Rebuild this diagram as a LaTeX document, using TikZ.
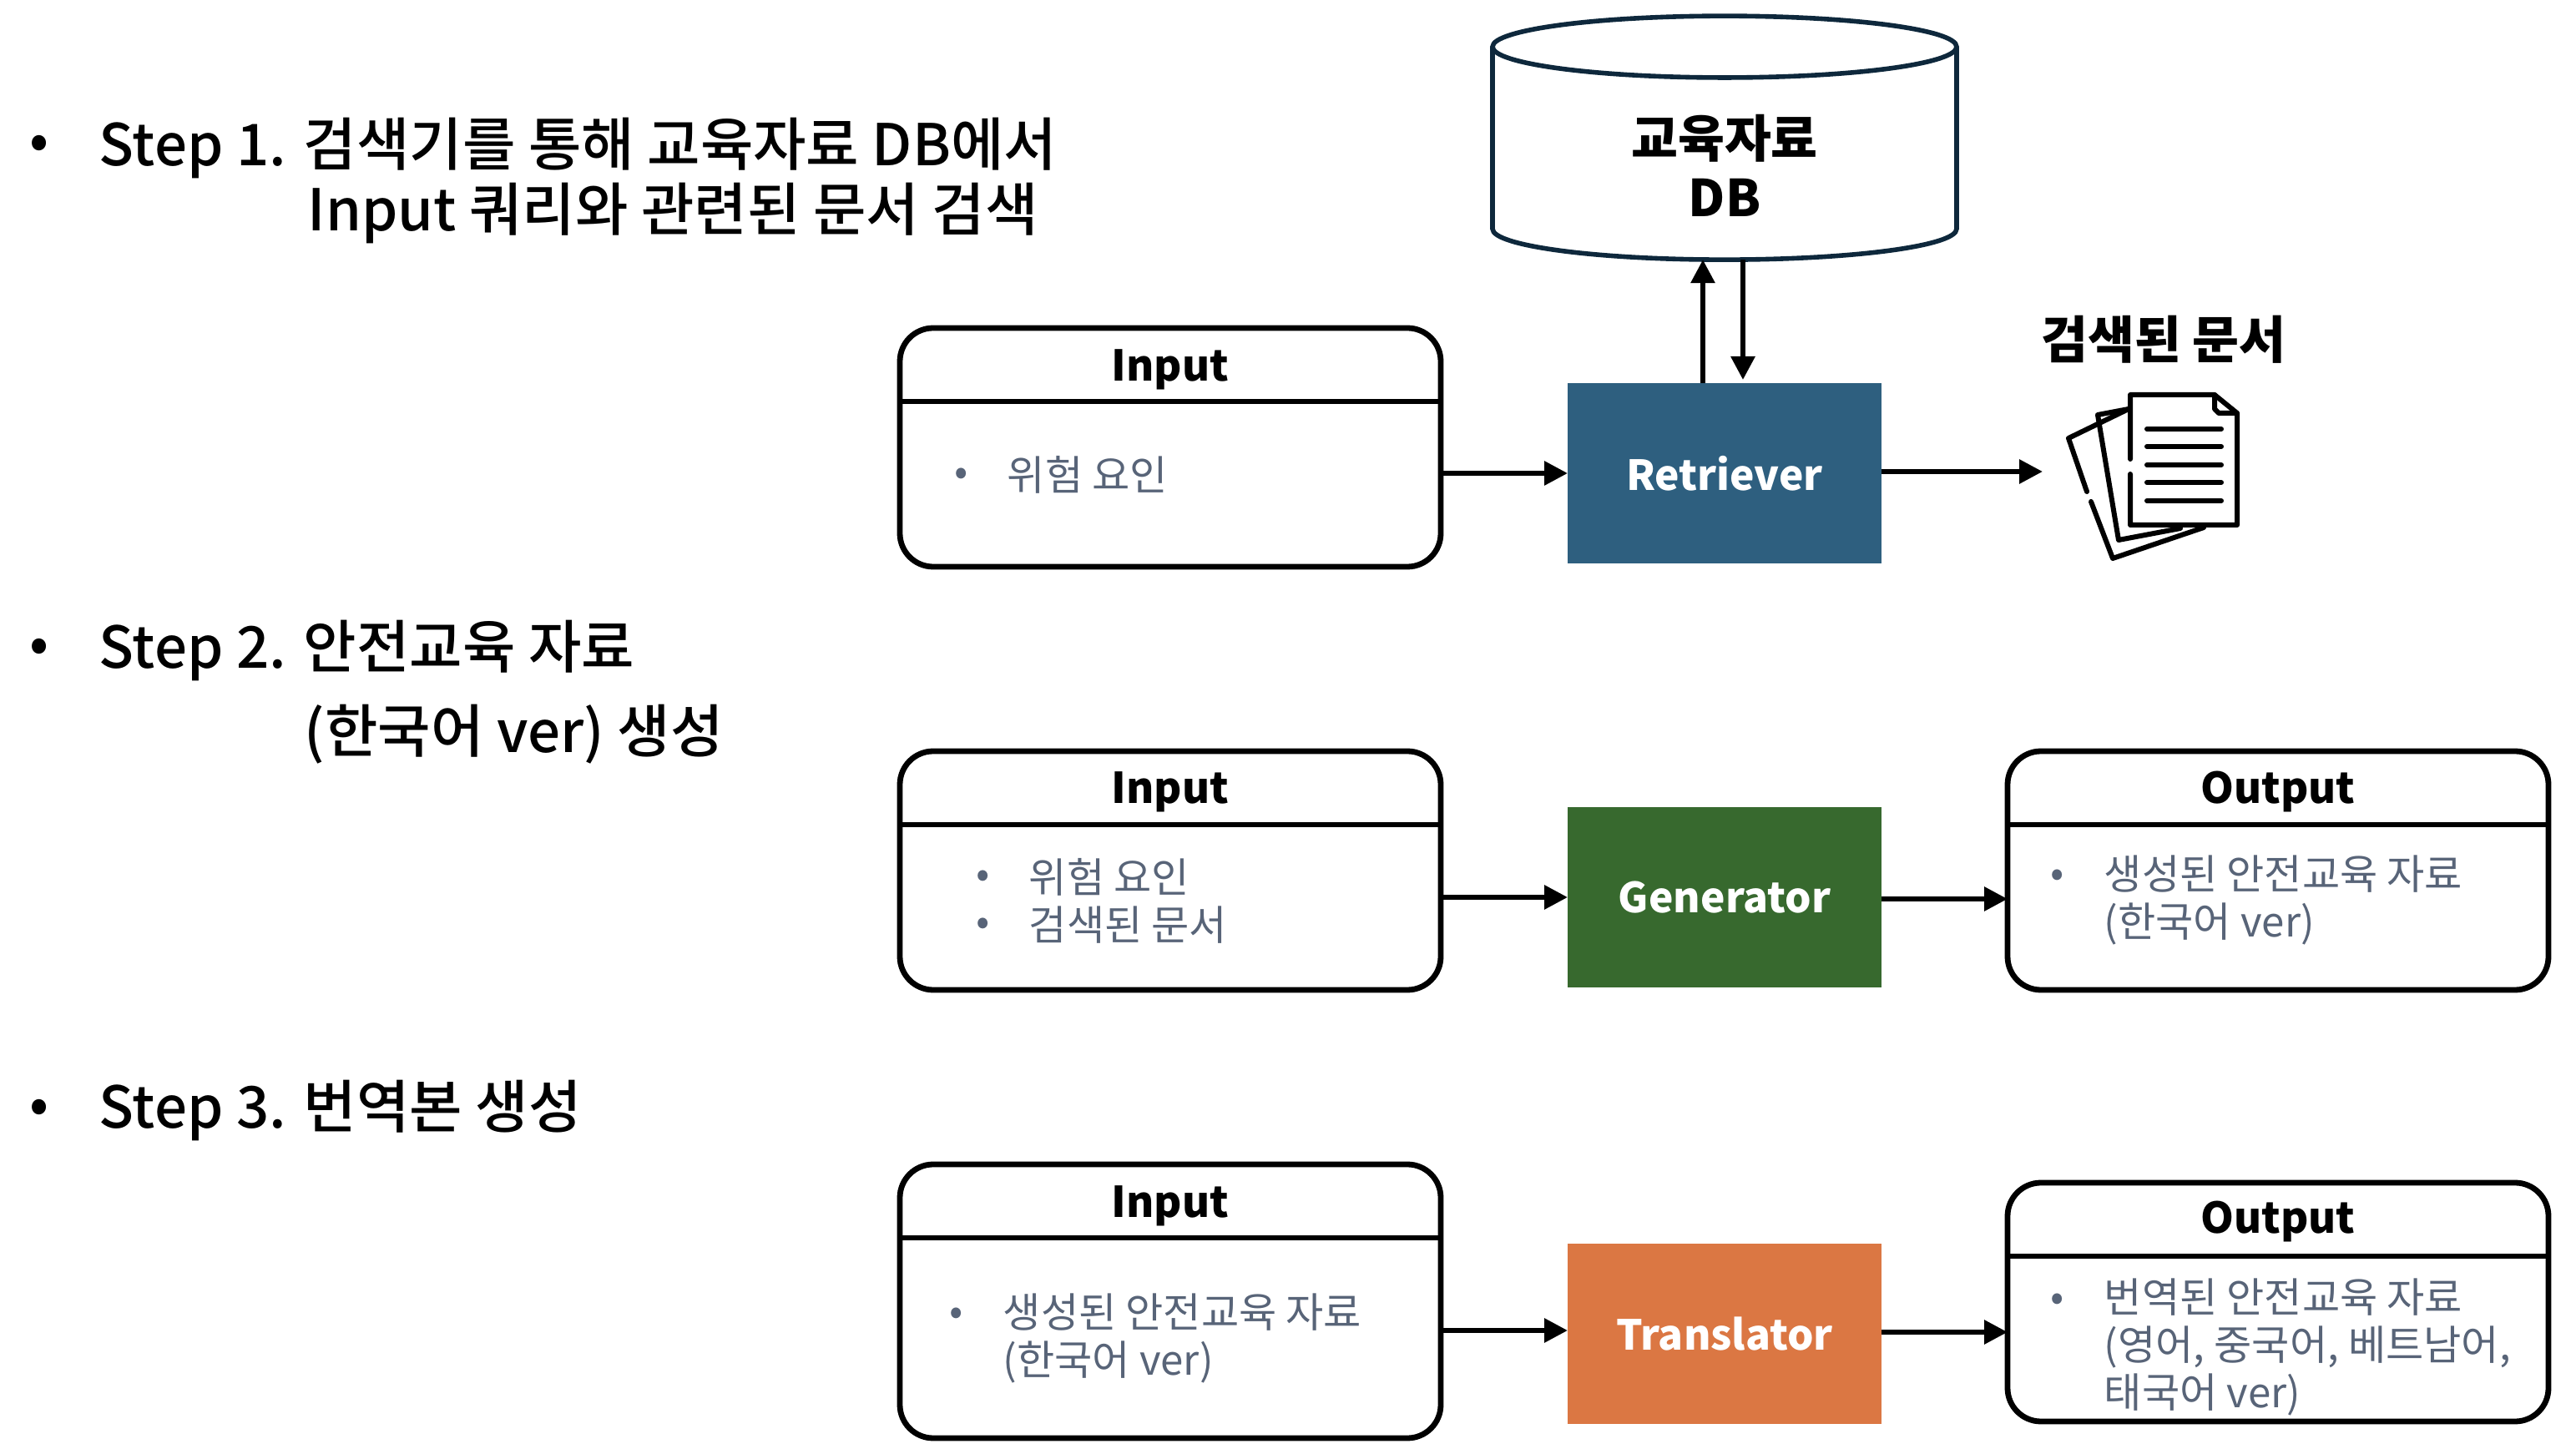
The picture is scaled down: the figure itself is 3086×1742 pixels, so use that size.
\documentclass[tikz,border=0pt]{standalone}
\usepackage{fontspec}
\setmainfont{Noto Sans CJK KR}
\newfontfamily\stepfont{Noto Sans CJK KR Medium}
\definecolor{bodygray}{RGB}{88, 100, 120}
\definecolor{dbnavy}{RGB}{14, 40, 60}
\definecolor{retrieverblue}{RGB}{46, 95, 127}
\definecolor{generatorgreen}{RGB}{55, 105, 46}
\definecolor{translatororange}{RGB}{219, 119, 67}
\usetikzlibrary{shapes.geometric, arrows.meta, positioning, calc}
\tikzset{
  stepline/.style={anchor=west, inner sep=0pt, font=\stepfont\fontsize{17.25}{19}\selectfont},
  stepdot/.style={inner sep=0pt, font=\fontsize{17}{19}\selectfont},
  iobox/.style={draw=black, fill=white, line width=1.7pt, rounded corners=10pt, minimum width=162pt, outer sep=0pt},
  iotitle/.style={inner sep=0pt, font=\bfseries\fontsize{12.7}{15}\selectfont},
  iotext/.style={anchor=west, inner sep=0pt, align=left, text=bodygray, font=\fontsize{12.3}{14.25}\selectfont},
  iodot/.style={inner sep=0pt, text=bodygray, font=\fontsize{12}{14.25}\selectfont},
  modelbox/.style={minimum width=94pt, minimum height=54pt, inner sep=0pt, outer sep=0pt, text=white, font=\bfseries\fontsize{12.4}{15}\selectfont},
  flow/.style={line width=1.5pt, -{Triangle[length=7pt, width=7pt]}},
  page/.style={line width=1.5pt, line cap=round, line join=round},
}

\begin{document}
\begin{tikzpicture}[x=0.25pt, y=-0.25pt]
  \useasboundingbox (0,0) rectangle (3086,1742);

  % steps on the left
  \node[stepdot] (dotA) at (47,177) {•};
  \node[stepline] (stepA) at (118,178) {Step 1. 검색기를 통해 교육자료 DB에서};
  \node[stepline] (stepAb) at (368,255) {Input 쿼리와 관련된 문서 검색};
  \node[stepdot] (dotB) at (47,780) {•};
  \node[stepline] (stepB) at (118,779) {Step 2. 안전교육 자료};
  \node[stepline] (stepBb) at (364,880) {(한국어 ver) 생성};
  \node[stepdot] (dotC) at (47,1332) {•};
  \node[stepline] (stepC) at (118,1331) {Step 3. 번역본 생성};

  % models
  \node[modelbox, fill=retrieverblue] (retriever) at (2066,567) {Retriever};
  \node[modelbox, fill=generatorgreen] (generator) at (2066,1075) {Generator};
  \node[modelbox, fill=translatororange] (translator) at (2066,1598) {Translator};

  % db
  \node[cylinder, shape border rotate=90, shape aspect=0.33, draw=dbnavy, fill=white, line width=1.4pt,
    minimum width=139pt, minimum height=73pt, outer sep=0pt, inner sep=0pt, align=center,
    font=\bfseries\fontsize{15.2}{17.75}\selectfont] (db) at (2066,185) {\phantom{교육자료}\\\phantom{DB}};
  \node[inner sep=0pt, align=center, font=\bfseries\fontsize{15.2}{17.75}\selectfont] (dblabel) at (2066,198) {교육자료\\DB};

  % input and output boxes
  \node[iobox, minimum height=71.5pt] (inputA) at (1402,536) {};
  \node[iobox, minimum height=71.5pt] (inputB) at (1402,1043) {};
  \node[iobox, minimum height=82pt] (inputC) at (1402,1559) {};
  \node[iobox, minimum height=71.5pt] (outputB) at (2729,1043) {};
  \node[iobox, minimum height=71.5pt] (outputC) at (2729,1560) {};
  \foreach \boxname in {inputA, inputB, inputC, outputB, outputC}
    \draw[line width=1.7pt] ([yshift=-22pt]\boxname.north west) -- ([yshift=-22pt]\boxname.north east);

  \node[iotitle] (inputAtitle) at ([yshift=-12.4pt]inputA.north) {Input};
  \node[iotitle] (inputBtitle) at ([yshift=-12.2pt]inputB.north) {Input};
  \node[iotitle] (inputCtitle) at ([yshift=-12.4pt]inputC.north) {Input};
  \node[iotitle] (outputBtitle) at ([yshift=-12.2pt]outputB.north) {Output};
  \node[iotitle] (outputCtitle) at ([yshift=-11.7pt]outputC.north) {Output};

  \node[iodot] (inputAdot) at (1152,571) {•};
  \node[iotext] (inputAtext) at (1206,569) {위험 요인};
  \node[iodot] (inputBdot) at (1178,1053) {•};
  \node[iodot] (inputBdotb) at (1178,1110) {•};
  \node[iotext] (inputBtext) at (1232,1079) {위험 요인\\검색된 문서};
  \node[iodot] (outputBdot) at (2465,1052) {•};
  \node[iotext] (outputBtext) at (2520,1078) {생성된 안전교육 자료\\(한국어 ver)};
  \node[iodot] (inputCdot) at (1146,1577) {•};
  \node[iotext] (inputCtext) at (1201,1603) {생성된 안전교육 자료\\(한국어 ver)};
  \node[iodot] (outputCdot) at (2465,1560) {•};
  \node[iotext] (outputCtext) at (2520,1614) {번역된 안전교육 자료\\(영어, 중국어, 베트남어,\\태국어 ver)};

  % retrieved documents
  \node[inner sep=0pt, font=\bfseries\fontsize{15.2}{17}\selectfont] (docslabel) at (2592,407) {검색된 문서};
  \coordinate (docs) at (2447,565);
  \draw[page] (2550,490) -- (2478,525) -- (2500,589);
  \draw[page] (2505,601) -- (2531,669) -- (2640,632);
  \draw[page] (2550,490) -- (2513,497) -- (2538,647) -- (2612,633);
  \draw[page] (2552,550) -- (2552,473) -- (2653,473) -- (2680,495) -- (2680,629) -- (2552,629) -- (2552,568);
  \draw[page] (2653,473) -- (2653,490) -- (2658,495) -- (2680,495);
  \foreach \ly in {514,535,557,578,600}
    \draw[page] (2572,\ly) -- (2661,\ly);

  % connectors
  \draw[flow] (inputA.east |- retriever.west) -- (retriever.west);
  \draw[flow] ([yshift=0.5pt]retriever.east) -- (docs);
  \draw[flow] ([xshift=-6.5pt]retriever.north) -- ([xshift=-6.5pt]retriever.north |- db.south);
  \draw[flow] ([xshift=5.5pt]retriever.north |- db.south) -- ([xshift=5.5pt,yshift=1pt]retriever.north);
  \draw[flow] (inputB.east |- generator.west) -- (generator.west);
  \draw[flow] ([yshift=-0.5pt]generator.east) -- ([yshift=-0.5pt]outputB.west |- generator.east);
  \draw[flow] ([yshift=1pt]inputC.east |- translator.west) -- ([yshift=1pt]translator.west);
  \draw[flow] ([yshift=0.5pt]translator.east) -- ([yshift=0.5pt]outputC.west |- translator.east);
\end{tikzpicture}
\end{document}
